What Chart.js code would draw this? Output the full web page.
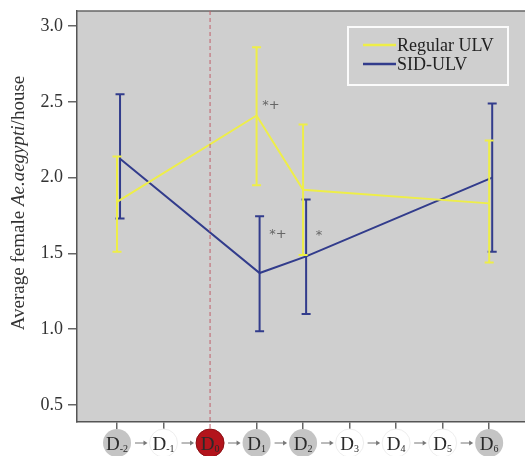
<!DOCTYPE html>
<html>
<head>
<meta charset="utf-8">
<script src="https://cdn.jsdelivr.net/npm/chart.js@4.4.1/dist/chart.umd.min.js"></script>
<style>
    body { margin: 0; background: #fff; }
    #wrap { width: 525px; height: 456px; }
</style>
</head>
<body>
<div id="wrap"><canvas id="chart" width="525" height="456"></canvas></div>
<script>
// Days of the trial (x axis) and the days where traps were checked
const dayTicks = [-2, -1, 0, 1, 2, 3, 4, 5, 6];
const dayStates = ['gray', 'white', 'red', 'gray', 'gray', 'white', 'white', 'white', 'gray'];
const sampleDays = [-2, 1, 2, 6];

// Regular ULV: mean and error bar limits
const regularMean = [1.84, 2.41, 1.92, 1.83];
const regularLow = [1.51, 1.95, 1.49, 1.44];
const regularHigh = [2.14, 2.86, 2.35, 2.245];

// SID-ULV: mean and error bar limits
const sidMean = [2.125, 1.37, 1.48, 2.00];
const sidLow = [1.73, 0.985, 1.10, 1.51];
const sidHigh = [2.55, 1.745, 1.855, 2.49];

const yTicks = [0.5, 1.0, 1.5, 2.0, 2.5, 3.0];

// significance marks
const marks = [
    { x: 1.12, y: 2.49, text: '*+' },
    { x: 1.27, y: 1.64, text: '*+' },
    { x: 2.27, y: 1.63, text: '*' }
];

const YELLOW = '#eeee48';
const BLUE = '#323c8c';
const SERIF = '"Liberation Serif", "DejaVu Serif", serif';
const BLUE_SHIFT = 0.065;

const series = [
    { label: 'Regular ULV', color: YELLOW, shift: 0, mean: regularMean, low: regularLow, high: regularHigh },
    { label: 'SID-ULV', color: BLUE, shift: BLUE_SHIFT, mean: sidMean, low: sidLow, high: sidHigh }
];

const chartPlugin = {
    id: 'decor',
    beforeDraw(chart) {
        const { ctx, chartArea: a } = chart;
        ctx.save();
        ctx.fillStyle = '#fff';
        ctx.fillRect(0, 0, chart.width, chart.height);
        ctx.fillStyle = '#cfcfcf';
        ctx.fillRect(a.left, a.top, a.right - a.left, a.bottom - a.top);
        ctx.restore();
    },
    afterDatasetDraw(chart, args) {
        // error bars for each series
        const s = series[args.index];
        const { ctx, scales: { x, y } } = chart;
        ctx.save();
        ctx.strokeStyle = s.color;
        ctx.lineWidth = 2;
        sampleDays.forEach((d, i) => {
            const px = x.getPixelForValue(d + s.shift);
            const top = y.getPixelForValue(s.high[i]);
            const bot = y.getPixelForValue(s.low[i]);
            ctx.beginPath();
            ctx.moveTo(px, top); ctx.lineTo(px, bot);
            ctx.moveTo(px - 4.5, top); ctx.lineTo(px + 4.5, top);
            ctx.moveTo(px - 4.5, bot); ctx.lineTo(px + 4.5, bot);
            ctx.stroke();
        });
        ctx.restore();
    },
    afterDraw(chart) {
        const { ctx, chartArea: a, scales: { x, y } } = chart;
        ctx.save();

        // top frame line
        ctx.strokeStyle = '#666';
        ctx.lineWidth = 1.5;
        ctx.beginPath();
        ctx.moveTo(a.left, a.top); ctx.lineTo(a.right, a.top);
        ctx.stroke();

        // day circles with arrows
        const cy = 443, r = 14;
        dayTicks.forEach((d, i) => {
            const px = x.getPixelForValue(d);
            if (i > 0) {
                const prev = x.getPixelForValue(dayTicks[i - 1]);
                const ax1 = prev + r + 4, ax2 = px - r - 2;
                ctx.strokeStyle = '#777';
                ctx.fillStyle = '#777';
                ctx.lineWidth = 1;
                ctx.beginPath();
                ctx.moveTo(ax1, cy); ctx.lineTo(ax2 - 3, cy);
                ctx.stroke();
                ctx.beginPath();
                ctx.moveTo(ax2, cy); ctx.lineTo(ax2 - 4, cy - 2.5); ctx.lineTo(ax2 - 4, cy + 2.5);
                ctx.closePath();
                ctx.fill();
            }
            const state = dayStates[i];
            ctx.beginPath();
            ctx.arc(px, cy, r, 0, Math.PI * 2);
            ctx.fillStyle = state === 'red' ? '#b3141c' : state === 'gray' ? '#c4c4c4' : '#ffffff';
            ctx.fill();
            if (state === 'red') {
                ctx.strokeStyle = '#8a0e12'; ctx.lineWidth = 1; ctx.stroke();
            } else if (state === 'white') {
                ctx.strokeStyle = '#eeeeee'; ctx.lineWidth = 1; ctx.stroke();
            }
            ctx.fillStyle = '#2a2a2a';
            ctx.textBaseline = 'alphabetic';
            ctx.textAlign = 'left';
            ctx.font = '19px ' + SERIF;
            const dw = ctx.measureText('D').width;
            const sub = String(d);
            ctx.font = '10px ' + SERIF;
            const sw = ctx.measureText(sub).width;
            const sx = px - (dw + sw) / 2;
            ctx.font = '19px ' + SERIF;
            ctx.fillText('D', sx, cy + 7);
            ctx.font = '10px ' + SERIF;
            ctx.fillText(sub, sx + dw, cy + 9);
        });

        // dashed line at spray day
        const x0 = x.getPixelForValue(0);
        ctx.strokeStyle = '#c0606a';
        ctx.lineWidth = 1;
        ctx.setLineDash([4, 3]);
        ctx.beginPath();
        ctx.moveTo(x0, a.top); ctx.lineTo(x0, a.bottom + 8);
        ctx.stroke();
        ctx.setLineDash([]);

        // significance marks
        ctx.fillStyle = '#666';
        ctx.font = '13px "DejaVu Sans", sans-serif';
        ctx.textAlign = 'left';
        ctx.textBaseline = 'middle';
        marks.forEach(m => {
            ctx.fillText(m.text, x.getPixelForValue(m.x), y.getPixelForValue(m.y) + 2);
        });

        // legend box
        ctx.strokeStyle = 'rgba(255,255,255,0.9)';
        ctx.lineWidth = 2;
        ctx.strokeRect(348, 27, 160, 58);
        ctx.font = '18px ' + SERIF;
        ctx.fillStyle = '#222';
        series.forEach((s, i) => {
            const ly = 45 + i * 19;
            ctx.strokeStyle = s.color;
            ctx.lineWidth = 2.5;
            ctx.beginPath();
            ctx.moveTo(363, ly); ctx.lineTo(396, ly);
            ctx.stroke();
            ctx.fillText(s.label, 397, ly + 1);
        });

        // y axis title with italic species name
        ctx.textBaseline = 'middle';
        ctx.translate(19, 203);
        ctx.rotate(-Math.PI / 2);
        const parts = [
            { t: 'Average female ', f: '19px ' + SERIF },
            { t: 'Ae.aegypti', f: 'italic 19px ' + SERIF },
            { t: '/house', f: '19px ' + SERIF }
        ];
        let total = 0;
        parts.forEach(p => { ctx.font = p.f; p.w = ctx.measureText(p.t).width; total += p.w; });
        let cx = -total / 2;
        ctx.fillStyle = '#333';
        parts.forEach(p => { ctx.font = p.f; ctx.fillText(p.t, cx, 0); cx += p.w; });
        ctx.setTransform(1, 0, 0, 1, 0, 0);

        ctx.restore();
    }
};

new Chart(document.getElementById('chart'), {
    type: 'line',
    data: {
        datasets: series.map(s => ({
            label: s.label,
            data: sampleDays.map((d, i) => ({ x: d + s.shift, y: s.mean[i] })),
            borderColor: s.color,
            borderWidth: 2,
            pointRadius: 0,
            tension: 0,
            fill: false
        }))
    },
    options: {
        responsive: false,
        animation: false,
        layout: { padding: { top: 11, left: 0, right: 0, bottom: 0 } },
        plugins: {
            legend: { display: false },
            tooltip: { enabled: false }
        },
        scales: {
            x: {
                type: 'linear',
                min: -2.86,
                max: 6.77,
                afterBuildTicks: scale => { scale.ticks = dayTicks.map(v => ({ value: v })); },
                afterFit: scale => {
                    scale.height = 34.5;
                    scale.paddingLeft = 0; scale.paddingRight = 0;
                },
                ticks: { display: false },
                grid: {
                    drawOnChartArea: false,
                    tickLength: 8,
                    lineWidth: 1.5,
                    color: ctx => (ctx.tick && ctx.tick.value === 0 ? 'rgba(0,0,0,0)' : '#666')
                },
                border: { color: '#555', width: 1.5 }
            },
            y: {
                min: 0.39,
                max: 3.10,
                afterBuildTicks: scale => { scale.ticks = yTicks.map(v => ({ value: v })); },
                afterFit: scale => {
                    scale.width = 77;
                    scale.paddingTop = 0; scale.paddingBottom = 0;
                },
                ticks: {
                    padding: 5,
                    color: '#333',
                    font: { family: SERIF, size: 18 },
                    callback: v => v.toFixed(1)
                },
                grid: { drawOnChartArea: false, tickLength: 9, lineWidth: 1.5, color: '#666' },
                border: { color: '#555', width: 1.5 }
            }
        }
    },
    plugins: [chartPlugin]
});
</script>
</body>
</html>
